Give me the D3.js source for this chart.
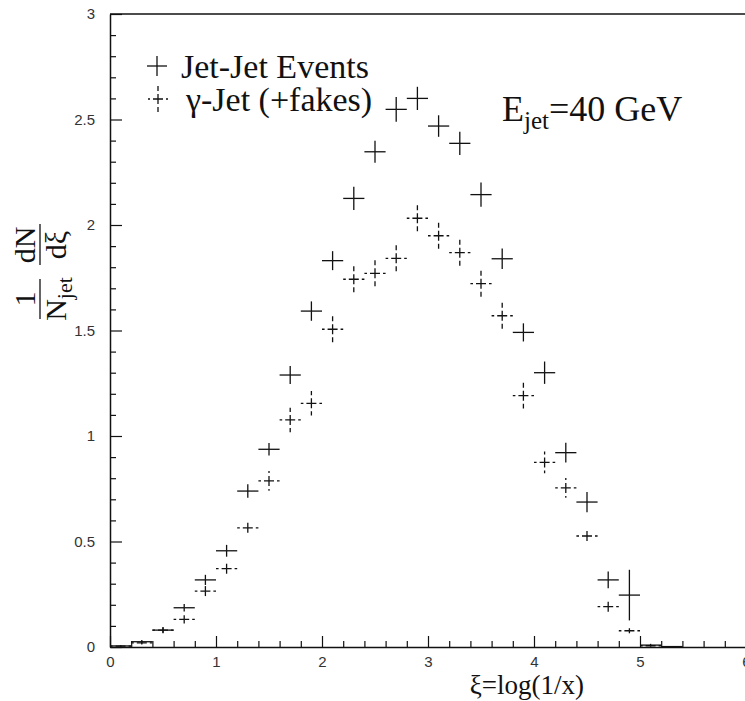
<!DOCTYPE html>
<html>
<head>
<meta charset="utf-8">
<script src="https://cdn.jsdelivr.net/npm/d3@7"></script>
<style>
  html, body { margin: 0; padding: 0; background: #fff; }
  svg { display: block; }
  .serif { font-family: "Liberation Serif", "Times New Roman", serif; fill: #111; }
</style>
</head>
<body>
<svg id="chart" width="745" height="701"></svg>
<script>
// ---- data ----
const xiCenters = [0.1, 0.3, 0.5, 0.7, 0.9, 1.1, 1.3, 1.5, 1.7, 1.9, 2.1, 2.3, 2.5, 2.7, 2.9,
                   3.1, 3.3, 3.5, 3.7, 3.9, 4.1, 4.3, 4.5, 4.7, 4.9, 5.1, 5.3];
const binHalfWidth = 0.1;
const jetJet = [0.005, 0.025, 0.080, 0.186, 0.318, 0.456, 0.739, 0.937, 1.289, 1.592, 1.831, 2.126, 2.347, 2.548, 2.600,
                2.469, 2.387, 2.144, 1.840, 1.491, 1.300, 0.921, 0.687, 0.318, 0.246, 0.009, 0.002];
const jetJetErr = [0.003, 0.008, 0.012, 0.018, 0.024, 0.028, 0.032, 0.030, 0.043, 0.046, 0.045, 0.055, 0.052, 0.059, 0.055,
                   0.051, 0.055, 0.057, 0.049, 0.043, 0.053, 0.047, 0.048, 0.040, 0.120, 0.006, 0.002];
const gammaJet = [0.004, 0.020, 0.080, 0.131, 0.265, 0.371, 0.565, 0.787, 1.076, 1.155, 1.506, 1.743, 1.771, 1.842, 2.032,
                  1.949, 1.869, 1.722, 1.570, 1.191, 0.875, 0.754, 0.526, 0.191, 0.077, 0.006, 0.002];
const gammaJetErr = [0.003, 0.008, 0.015, 0.020, 0.028, 0.028, 0.032, 0.047, 0.058, 0.058, 0.065, 0.067, 0.067, 0.066, 0.067,
                     0.067, 0.068, 0.067, 0.064, 0.061, 0.051, 0.047, 0.033, 0.024, 0.012, 0.004, 0.002];
const xMajorTicks = [0, 1, 2, 3, 4, 5, 6];
const xTickLabels = ["0", "1", "2", "3", "4", "5", "6"];
const yMajorTicks = [0, 0.5, 1, 1.5, 2, 2.5, 3];
const yTickLabels = ["0", "0.5", "1", "1.5", "2", "2.5", "3"];
const legendLabels = ["Jet-Jet Events", "\u03b3-Jet (+fakes)"];

// ---- layout ----
const svg = d3.select("#chart");
const plot = { left: 110, right: 746, top: 14, bottom: 647 };
const x = d3.scaleLinear().domain([0, 6]).range([plot.left, plot.right]);
const y = d3.scaleLinear().domain([0, 3]).range([plot.bottom, plot.top]);

const xMinor = d3.range(0, 6.0001, 0.2).map(v => +v.toFixed(1)).filter(v => !xMajorTicks.includes(v));
const yMinor = d3.range(0, 3.0001, 0.1).map(v => +v.toFixed(1)).filter(v => !yMajorTicks.includes(v));

// frame (top line)
svg.append("line")
  .attr("x1", plot.left).attr("x2", plot.right)
  .attr("y1", plot.top).attr("y2", plot.top)
  .attr("stroke", "#111").attr("stroke-width", 1.3);

// minor ticks
svg.append("g").attr("transform", `translate(0,${plot.bottom})`)
  .call(d3.axisBottom(x).tickValues(xMinor).tickFormat("").tickSize(-6).tickSizeOuter(0))
  .call(g => g.select(".domain").remove())
  .call(g => g.selectAll("line").attr("stroke", "#111").attr("stroke-width", 1.2));
svg.append("g").attr("transform", `translate(${plot.left},0)`)
  .call(d3.axisLeft(y).tickValues(yMinor).tickFormat("").tickSize(-6).tickSizeOuter(0))
  .call(g => g.select(".domain").remove())
  .call(g => g.selectAll("line").attr("stroke", "#111").attr("stroke-width", 1.2));

function styleTickText(g) {
  g.attr("font-size", 15).attr("font-family", "'Liberation Sans', Arial, sans-serif");
  g.selectAll(".tick text").attr("fill", "#333");
}

// major axes
svg.append("g").attr("transform", `translate(0,${plot.bottom})`)
  .call(d3.axisBottom(x).tickValues(xMajorTicks).tickFormat((d, i) => xTickLabels[i])
        .tickSize(-11).tickSizeOuter(0).tickPadding(9))
  .call(styleTickText)
  .call(g => g.select(".domain").attr("stroke", "#111").attr("stroke-width", 1.5))
  .call(g => g.selectAll(".tick line").attr("stroke", "#111").attr("stroke-width", 1.2));
svg.append("g").attr("transform", `translate(${plot.left},0)`)
  .call(d3.axisLeft(y).tickValues(yMajorTicks).tickFormat((d, i) => yTickLabels[i])
        .tickSize(-12).tickSizeOuter(0).tickPadding(15))
  .call(styleTickText)
  .call(g => g.select(".domain").attr("stroke", "#111").attr("stroke-width", 1.5))
  .call(g => g.selectAll(".tick line").attr("stroke", "#111").attr("stroke-width", 1.2));

// ---- error-bar crosses ----
function drawSeries(values, errs, dashed) {
  const g = svg.append("g")
    .attr("stroke", "#111")
    .attr("stroke-width", 1.3)
    .attr("fill", "none");
  const dash = dashed ? "5,3" : null;
  values.forEach((v, i) => {
    const cx = x(xiCenters[i]), cy = y(v);
    const segs = [
      [cx, cy, x(xiCenters[i] - binHalfWidth), cy],
      [cx, cy, x(xiCenters[i] + binHalfWidth), cy],
      [cx, cy, cx, y(v + errs[i])],
      [cx, cy, cx, y(Math.max(0, v - errs[i]))]
    ];
    segs.forEach(s => {
      g.append("line")
        .attr("x1", s[0]).attr("y1", s[1]).attr("x2", s[2]).attr("y2", s[3])
        .attr("stroke-dasharray", dash);
    });
  });
}
drawSeries(gammaJet, gammaJetErr, true);
drawSeries(jetJet, jetJetErr, false);

// ---- legend ----
function legendCross(cx, cy, hw, hh, dashed) {
  const g = svg.append("g").attr("stroke", "#111").attr("stroke-width", 1.3);
  const dash = dashed ? "5,3" : null;
  [[cx, cy, cx - hw, cy], [cx, cy, cx + hw, cy], [cx, cy, cx, cy - hh], [cx, cy, cx, cy + hh]]
    .forEach(s => g.append("line").attr("x1", s[0]).attr("y1", s[1]).attr("x2", s[2]).attr("y2", s[3])
      .attr("stroke-dasharray", dash));
}
legendCross(157, 66, 10, 10, false);
legendCross(158, 99, 10, 14, true);
svg.append("text").attr("class", "serif").attr("x", 181).attr("y", 78)
  .attr("font-size", 34).text(legendLabels[0]);
svg.append("text").attr("class", "serif").attr("x", 186).attr("y", 111)
  .attr("font-size", 34).text(legendLabels[1]);

// ---- E_jet annotation ----
const et = svg.append("text").attr("class", "serif").attr("x", 502).attr("y", 121).attr("font-size", 36);
et.append("tspan").text("E");
et.append("tspan").attr("font-size", 25).attr("dy", 8).text("jet");
et.append("tspan").attr("dy", -8).text("=40 GeV");

// ---- x axis title ----
svg.append("text").attr("class", "serif").attr("x", 584).attr("y", 694)
  .attr("text-anchor", "end").attr("font-size", 27).text("\u03be=log(1/x)");

// ---- y axis title (rotated fraction) ----
const yl = svg.append("g").attr("transform", "translate(40,272) rotate(-90)");
// fraction 1 : 1 / N_jet
yl.append("line").attr("x1", -47).attr("x2", -7).attr("y1", 0).attr("y2", 0)
  .attr("stroke", "#111").attr("stroke-width", 1.3);
yl.append("text").attr("class", "serif").attr("x", -27).attr("y", -5)
  .attr("text-anchor", "middle").attr("font-size", 30).text("1");
const nj = yl.append("text").attr("class", "serif").attr("x", -27).attr("y", 26)
  .attr("text-anchor", "middle").attr("font-size", 30);
nj.append("tspan").text("N");
nj.append("tspan").attr("font-size", 22).attr("dy", 6).text("jet");
// fraction 2 : dN / dxi
yl.append("line").attr("x1", 7).attr("x2", 48).attr("y1", 0).attr("y2", 0)
  .attr("stroke", "#111").attr("stroke-width", 1.3);
yl.append("text").attr("class", "serif").attr("x", 27).attr("y", -5)
  .attr("text-anchor", "middle").attr("font-size", 30).text("dN");
yl.append("text").attr("class", "serif").attr("x", 27).attr("y", 26)
  .attr("text-anchor", "middle").attr("font-size", 30).text("d\u03be");
</script>
</body>
</html>
